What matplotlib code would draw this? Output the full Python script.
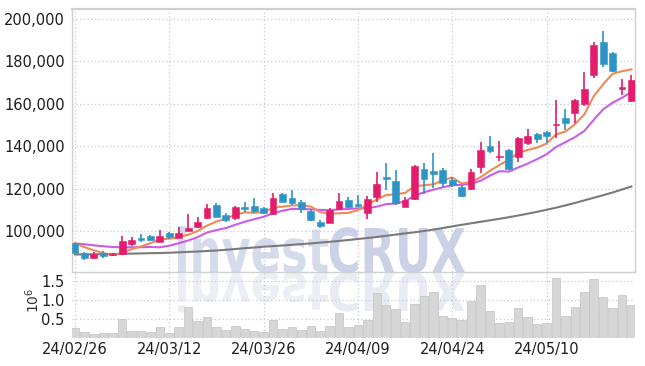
import numpy as np
import matplotlib.pyplot as plt
from matplotlib.textpath import TextPath
from matplotlib.patches import PathPatch
from matplotlib.font_manager import FontProperties
from matplotlib.transforms import Affine2D
from matplotlib.ticker import FuncFormatter

# trading days (yy/mm/dd)
dates = ['24/02/26', '24/02/27', '24/02/28', '24/02/29', '24/03/04', '24/03/05', '24/03/06',
         '24/03/07', '24/03/08', '24/03/11', '24/03/12', '24/03/13', '24/03/14', '24/03/15',
         '24/03/18', '24/03/19', '24/03/20', '24/03/21', '24/03/22', '24/03/25', '24/03/26',
         '24/03/27', '24/03/28', '24/03/29', '24/04/01', '24/04/02', '24/04/03', '24/04/04',
         '24/04/05', '24/04/08', '24/04/09', '24/04/11', '24/04/12', '24/04/15', '24/04/16',
         '24/04/17', '24/04/18', '24/04/19', '24/04/22', '24/04/23', '24/04/24', '24/04/25',
         '24/04/26', '24/04/29', '24/04/30', '24/05/02', '24/05/03', '24/05/07', '24/05/08',
         '24/05/09', '24/05/10', '24/05/13', '24/05/14', '24/05/16', '24/05/17', '24/05/20',
         '24/05/21', '24/05/22', '24/05/23', '24/05/24']

opens = [94200, 89480, 87120, 89480, 88800, 89150, 93870, 96560, 97640, 94950,
         99200, 96840, 100140, 102030, 105990, 112260, 107550, 106270, 111180, 111790,
         110990, 108020, 117310, 115710, 113820, 109580, 104390, 103920, 110240, 114620,
         112730, 108630, 116180, 125610, 123590, 111460, 114950, 129100, 128440, 128770,
         124060, 120900, 119900, 130330, 140090, 135100, 138210, 134760, 141650, 145750,
         146840, 149800, 153300, 155800, 160100, 173590, 189010, 184100, 167200, 161460]
highs = [94400, 90240, 89950, 90570, 89500, 97640, 97030, 98440, 97900, 100330,
         99670, 101750, 107880, 106750, 112590, 113070, 108350, 111790, 113540, 115420,
         111500, 117780, 117900, 119340, 114620, 110400, 105190, 110710, 117780, 115900,
         116840, 116510, 127970, 131930, 128770, 116180, 131000, 131930, 136650, 129500,
         125610, 121500, 129100, 142120, 144810, 142450, 138800, 144400, 147970, 146200,
         147300, 161790, 157410, 162300, 174860, 189290, 194480, 184600, 171560, 173590]
lows = [89500, 86460, 86900, 87400, 88300, 88900, 92930, 94670, 95500, 94800,
        96080, 96600, 99900, 101270, 105660, 106460, 104390, 105190, 109100, 108350,
        108000, 107550, 113500, 112260, 108350, 104700, 101600, 103770, 109900, 110850,
        111180, 105520, 113820, 119340, 112260, 111200, 114600, 117450, 120140, 120900,
        120610, 116000, 119500, 127220, 136650, 133020, 128800, 132690, 140570, 141650,
        141370, 143730, 147640, 150800, 158960, 172030, 177500, 175100, 164150, 160990]
closes = [89760, 87120, 89150, 88070, 89100, 95280, 95750, 95610, 95750, 97780,
          97030, 99060, 101560, 104390, 110710, 106750, 105190, 111180, 110240, 109580,
          108350, 115420, 113820, 113070, 110240, 105190, 102360, 109910, 114150, 111180,
          111790, 114950, 122170, 124670, 113350, 114620, 130660, 124670, 126750, 122500,
          121700, 116510, 127830, 138210, 137740, 135380, 129100, 144010, 144810, 143540,
          144810, 150500, 150800, 161790, 166900, 187740, 178770, 175610, 167800, 171230]

# moving average lines
ma5 = [94200, 92400, 90900, 89600, 88620, 89720, 91450, 92740, 94280, 96030,
       96380, 97050, 98240, 99960, 102550, 104490, 105720, 107640, 108810, 108590,
       108910, 110950, 111480, 112050, 112180, 111550, 108940, 108150, 108370, 108560,
       109880, 112400, 114850, 116950, 117390, 117950, 121090, 121590, 122010, 123840,
       125260, 122430, 123060, 125350, 128400, 131130, 133650, 136890, 138210, 139370,
       141250, 145530, 146890, 150290, 154960, 163550, 169200, 174160, 175360, 176230]
ma10 = [94100, 93730, 93250, 92780, 92450, 92310, 92310, 92360, 92450, 92330,
        93050, 94250, 95490, 97120, 99290, 100440, 101380, 102940, 104390, 105570,
        106700, 108340, 109560, 110430, 110380, 110230, 109950, 109820, 110210, 110370,
        110710, 110670, 111500, 112660, 112970, 113920, 116750, 118220, 119480, 120610,
        121600, 121760, 122330, 123680, 126120, 128200, 128040, 129970, 131780, 133880,
        136190, 139590, 141890, 144250, 147160, 152400, 157370, 160530, 162830, 165600]
ma_long = [88920, 88960, 89010, 89060, 89150, 89250, 89340, 89430, 89530, 89620,
           89760, 89950, 90140, 90330, 90570, 90800, 91130, 91510, 91890, 92220,
           92590, 92880, 93160, 93490, 93820, 94150, 94530, 94910, 95330, 95750,
           96230, 96700, 97170, 97740, 98300, 98870, 99390, 100000, 100660, 101420,
           102170, 102920, 103630, 104340, 105050, 105750, 106510, 107310, 108160, 109060,
           110000, 110990, 112080, 113210, 114430, 115660, 116890, 118160, 119580, 120990]

# volume in millions of shares
volume = [0.27, 0.16, 0.11, 0.14, 0.14, 0.50, 0.20, 0.20, 0.17, 0.29,
          0.14, 0.29, 0.81, 0.46, 0.55, 0.29, 0.22, 0.33, 0.25, 0.20,
          0.17, 0.48, 0.24, 0.29, 0.21, 0.33, 0.18, 0.33, 0.66, 0.29,
          0.34, 0.48, 1.17, 0.87, 0.76, 0.43, 0.90, 1.10, 1.20, 0.57,
          0.53, 0.48, 0.97, 1.38, 0.71, 0.41, 0.43, 0.78, 0.55, 0.38,
          0.40, 1.56, 0.59, 0.81, 1.20, 1.54, 1.07, 0.78, 1.13, 0.87]

RED = '#e31c6c'
BLUE = '#2d94c6'
GRID = '#c6c9d8'
EDGE = '#d0d0d0'

W, H = 645, 366
fig = plt.figure(figsize=(W / 100, H / 100), dpi=100)
fig.patch.set_facecolor('white')

ax = fig.add_axes([71.7 / W, 1 - 272.3 / H, (635 - 71.7) / W, (272.3 - 9.3) / H])
axv = fig.add_axes([71.7 / W, 1 - 338.3 / H, (635 - 71.7) / W, (338.3 - 272.3) / H], sharex=ax)
for a in (ax, axv):
    a.set_facecolor('none')

x = np.arange(len(dates))
o = np.array(opens)
c = np.array(closes)
up = c >= o
cols = [RED if u else BLUE for u in up]

# wicks and bodies
ax.vlines(x, lows, highs, colors=cols, linewidth=1.2, zorder=3)
body_h = np.maximum(np.abs(c - o), 350)
body_b = np.minimum(o, c) - np.where(np.abs(c - o) < 350, 175, 0)
ax.bar(x, body_h, bottom=body_b, width=0.72, color=cols, edgecolor=cols, linewidth=0.4, zorder=4)

ax.plot(x, ma_long, color='#7a7a7a', linewidth=1.5, zorder=2.6)
ax.plot(x, ma10, color='#c95de8', linewidth=1.5, zorder=2.7)
ax.plot(x, ma5, color='#ef8a55', linewidth=1.5, zorder=2.8)

ax.set_xlim(-0.35, 59.38)
ax.set_ylim(80520, 204580)
ax.set_yticks([100000, 120000, 140000, 160000, 180000, 200000])
ax.yaxis.set_major_formatter(FuncFormatter(lambda v, p: f'{int(v):,}'))
ax.tick_params(axis='y', length=0, pad=5, labelsize=10.5, labelcolor='#1e1e1e')
ax.tick_params(axis='x', length=0, labelbottom=False)
ticks = list(range(0, len(dates), 10))
ax.set_xticks(ticks)
ax.grid(True, color=GRID, linestyle=(0, (1, 2)), linewidth=0.9)
ax.set_axisbelow(True)
for s in ax.spines.values():
    s.set_color(EDGE)
    s.set_linewidth(1.0)
ax.spines['top'].set_linewidth(1.6)

# volume panel
axv.bar(x, volume, width=0.9, color='#d6d6d6', edgecolor='#c2c2c2', linewidth=0.5, zorder=3)
axv.set_ylim(0, 1.72)
axv.set_yticks([0.5, 1.0, 1.5])
axv.yaxis.set_major_formatter(FuncFormatter(lambda v, p: f'{v:.1f}'))
axv.tick_params(axis='y', length=0, pad=5, labelsize=10.5, labelcolor='#1e1e1e')
axv.set_xticks(ticks)
axv.set_xticklabels([dates[i] for i in ticks])
axv.tick_params(axis='x', length=0, pad=3, labelsize=10.5, labelcolor='#1e1e1e')
axv.grid(True, color=GRID, linestyle=(0, (1, 2)), linewidth=0.9)
axv.set_axisbelow(True)
for s in axv.spines.values():
    s.set_visible(False)
fig.text(33 / W, 1 - 300 / H, r'$10^6$', rotation=90, ha='center', va='center',
         fontsize=10, color='#333333')

# watermark and its reflection
fp = FontProperties(family='DejaVu Sans', weight='bold')
p1 = TextPath((0, 0), 'invest', size=1, prop=fp)
p2 = TextPath((0, 0), 'CRUX', size=1, prop=fp)
b1 = p1.get_extents()
b2 = p2.get_extents()
gap = 0.04
sx = (465 - 178) / (b1.width + gap + b2.width)
sy = 46 / b2.height
base = H - 272.3
for path, shift, col, rcol in ((p1, -b1.x0, '#d6dbec', '#eceef6'),
                               (p2, -b2.x0 + b1.width + gap, '#cbd1e6', '#e8ebf4')):
    t = Affine2D().translate(shift, 0).scale(sx, sy).translate(178, base)
    fig.add_artist(PathPatch(path, transform=t, facecolor=col, edgecolor='none', zorder=-1))
    tr = Affine2D().translate(shift, 0).scale(sx, -sy * 0.85).translate(178, base - 1)
    fig.add_artist(PathPatch(path, transform=tr, facecolor=rcol, edgecolor='none', zorder=-1))

fig.savefig('out.png', dpi=100)
